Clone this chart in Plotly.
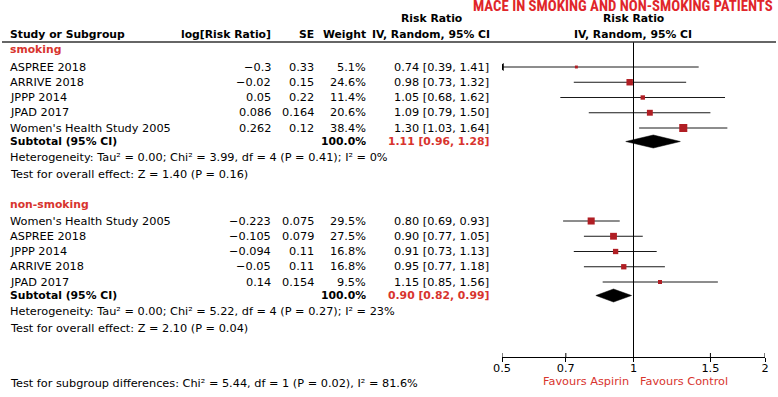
import math
import plotly.graph_objects as go

# ---------------- data ----------------
smk_studies = ["ASPREE 2018", "ARRIVE 2018", "JPPP 2014", "JPAD 2017", "Women's Health Study 2005"]
smk_logrr = [-0.3, -0.02, 0.05, 0.086, 0.262]
smk_se = [0.33, 0.15, 0.22, 0.164, 0.12]
smk_weight = [5.1, 24.6, 11.4, 20.6, 38.4]
smk_rr = [0.74, 0.98, 1.05, 1.09, 1.30]
smk_lo = [0.39, 0.73, 0.68, 0.79, 1.03]
smk_hi = [1.41, 1.32, 1.62, 1.50, 1.64]
smk_sub = [1.11, 0.96, 1.28]
smk_sub_weight = 100.0
smk_het = ["0.00", "3.99", "4", "0.41", "0%"]
smk_eff = ["1.40", "0.16"]

non_studies = ["Women's Health Study 2005", "ASPREE 2018", "JPPP 2014", "ARRIVE 2018", "JPAD 2017"]
non_logrr = [-0.223, -0.105, -0.094, -0.05, 0.14]
non_se = [0.075, 0.079, 0.11, 0.11, 0.154]
non_weight = [29.5, 27.5, 16.8, 16.8, 9.5]
non_rr = [0.80, 0.90, 0.91, 0.95, 1.15]
non_lo = [0.69, 0.77, 0.73, 0.77, 0.85]
non_hi = [0.93, 1.05, 1.13, 1.18, 1.56]
non_sub = [0.90, 0.82, 0.99]
non_sub_weight = 100.0
non_het = ["0.00", "5.22", "4", "0.27", "23%"]
non_eff = ["2.10", "0.04"]

subgroup_diff = ["5.44", "1", "0.02", "81.6%"]

tick_vals = [0.5, 0.7, 1, 1.5, 2]
tick_text = ["0.5", "0.7", "1", "1.5", "2"]

# ---------------- style / layout ----------------
W, H = 778, 397
RED = "#d8342e"
BOX = "#b01e24"
FONT = "DejaVu Sans"
FS = 11.3
FSB = 10.8
AXIS_Y = 357
STEP = 15.25
XMIN, XMAX = 0.5, 2.0

fig = go.Figure()
ann = []


def px(x):
    return x / W


def text(x, y, s, anchor="left", color="black", bold=False, size=None, family=FONT):
    ann.append(dict(
        x=px(x), y=y, xref="paper", yref="y", text=("<b>%s</b>" % s) if bold else s,
        showarrow=False, xanchor=anchor, yanchor="middle", borderpad=0,
        font=dict(family=family, size=size or (FSB if bold else FS), color=color),
    ))


def num(v):
    return str(v).replace("-", "\u2212")


def block(name, header_y, top_y, studies, logrr, se, weight, rr, lo, hi, sub, sub_w, het, eff):
    text(9, header_y, name, color=RED, bold=True)
    ys = [top_y + STEP * i for i in range(len(studies))]
    for i, y in enumerate(ys):
        text(9, y, studies[i])
        text(272, y, num(logrr[i]), anchor="right")
        text(315, y, num(se[i]), anchor="right")
        text(367, y, "%.1f%%" % weight[i], anchor="right")
        text(490, y, "%.2f [%.2f, %.2f]" % (rr[i], lo[i], hi[i]), anchor="right")
        l = max(lo[i], XMIN)
        h = min(hi[i], XMAX)
        fig.add_trace(go.Scatter(x=[l, h], y=[y, y], mode="lines",
                                 line=dict(color="#1a1a1a", width=1), hoverinfo="skip"))
        if lo[i] < XMIN:
            fig.add_trace(go.Scatter(x=[XMIN], y=[y], mode="markers",
                                     marker=dict(symbol="triangle-left", size=7, color="black"),
                                     hoverinfo="skip"))
    fig.add_trace(go.Scatter(x=rr, y=ys, mode="markers",
                             marker=dict(symbol="square", color=BOX, opacity=1,
                                         size=[1.3 * math.sqrt(w) for w in weight],
                                         line=dict(width=0)),
                             hoverinfo="skip"))
    sy = ys[-1] + 13.5
    text(9, sy, "Subtotal (95% CI)", bold=True)
    text(367, sy, "%.1f%%" % sub_w, anchor="right", bold=True)
    text(490, sy, "%.2f [%.2f, %.2f]" % tuple(sub), anchor="right", color=RED, bold=True)
    fig.add_trace(go.Scatter(x=[sub[1], sub[0], sub[2], sub[0], sub[1]],
                             y=[sy, sy - 6.5, sy, sy + 6.5, sy],
                             mode="lines", fill="toself", fillcolor="black",
                             line=dict(color="black", width=0.5), hoverinfo="skip"))
    text(9, sy + 16, "Heterogeneity: Tau\u00b2 = %s; Chi\u00b2 = %s, df = %s (P = %s); I\u00b2 = %s" % tuple(het))
    text(9, sy + 32.5, "Test for overall effect: Z = %s (P = %s)" % tuple(eff))


block("smoking", 49, 67, smk_studies, smk_logrr, smk_se, smk_weight, smk_rr, smk_lo, smk_hi,
      smk_sub, smk_sub_weight, smk_het, smk_eff)
block("non-smoking", 204, 221, non_studies, non_logrr, non_se, non_weight, non_rr, non_lo, non_hi,
      non_sub, non_sub_weight, non_het, non_eff)

text(9, 383, "Test for subgroup differences: Chi\u00b2 = %s, df = %s (P = %s), I\u00b2 = %s" % tuple(subgroup_diff))

# headers
text(623, 5.5, "MACE IN SMOKING AND NON-SMOKING PATIENTS", anchor="center", color="#e0262a",
     bold=True, size=14.8, family="Liberation Sans Narrow, Roboto Condensed, Roboto, sans-serif")
text(9, 34, "Study or Subgroup", bold=True)
text(272, 34, "log[Risk Ratio]", anchor="right", bold=True)
text(315, 34, "SE", anchor="right", bold=True)
text(367, 34, "Weight", anchor="right", bold=True)
text(431, 18.5, "Risk Ratio", anchor="center", bold=True)
text(431, 34, "IV, Random, 95% CI", anchor="center", bold=True)
text(633, 18.5, "Risk Ratio", anchor="center", bold=True)
text(633, 34, "IV, Random, 95% CI", anchor="center", bold=True)
text(630, 381, "Favours Aspirin", anchor="right", color=RED)
text(639, 381, "Favours Control", anchor="left", color=RED)

# line of no effect
fig.add_trace(go.Scatter(x=[1, 1], y=[42, AXIS_Y], mode="lines",
                         line=dict(color="black", width=1), hoverinfo="skip"))
# upper halves of the tick marks (cross-style ticks)
tx, ty = [], []
for v in tick_vals:
    tx += [v, v, None]
    ty += [AXIS_Y - 4, AXIS_Y, None]
fig.add_trace(go.Scatter(x=tx, y=ty, mode="lines", line=dict(color="black", width=1),
                         hoverinfo="skip"))

shapes = [dict(type="line", xref="paper", yref="y", x0=px(2), x1=px(776), y0=42, y1=42,
               line=dict(color="#333", width=1.5))]

fig.update_layout(
    width=W, height=H, margin=dict(l=0, r=0, t=0, b=0, autoexpand=False),
    paper_bgcolor="white", plot_bgcolor="white", showlegend=False,
    annotations=ann, shapes=shapes,
    xaxis=dict(type="log", domain=[px(502), px(765)],
               range=[math.log10(XMIN), math.log10(XMAX)],
               anchor="free", position=1 - AXIS_Y / H, automargin=False,
               showline=True, linecolor="black", linewidth=1,
               ticks="outside", ticklen=4, tickcolor="black", tickwidth=1,
               ticklabelstandoff=-4,
               tickvals=tick_vals, ticktext=tick_text,
               tickfont=dict(family=FONT, size=FS, color="black"),
               showgrid=False, zeroline=False, fixedrange=True),
    yaxis=dict(range=[H, 0], domain=[0, 1], visible=False, fixedrange=True),
)

fig.write_html("out.html", config={"displayModeBar": False},
               post_script="document.body.style.margin='0px';document.body.style.padding='0px';")
